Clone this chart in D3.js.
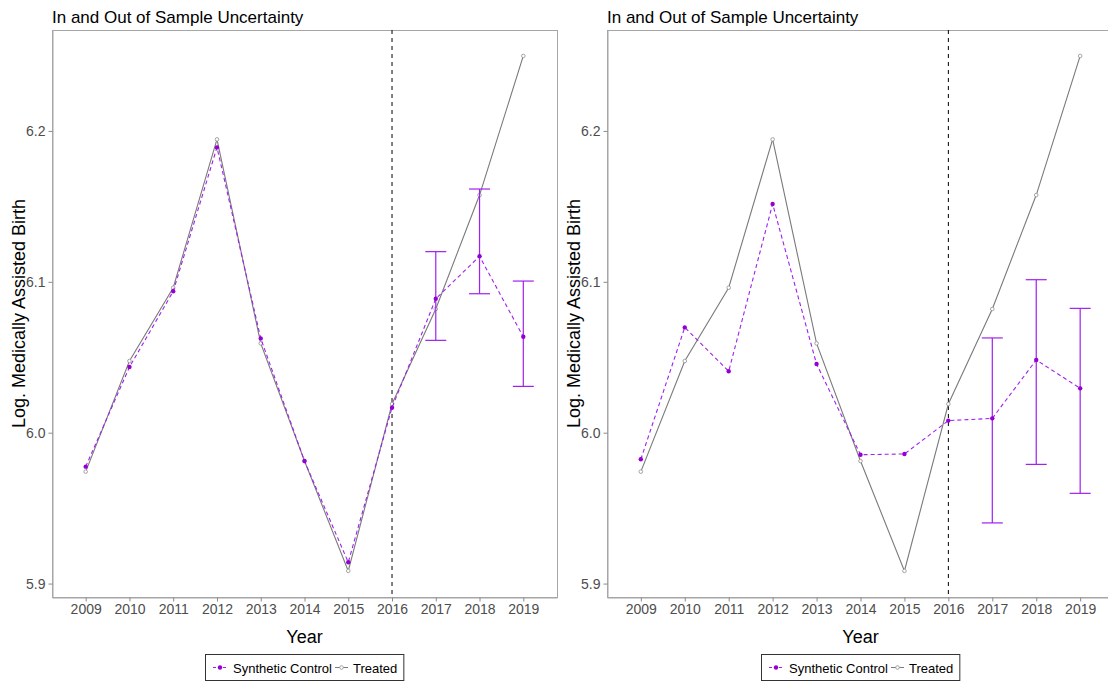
<!DOCTYPE html>
<html>
<head>
<meta charset="utf-8">
<script src="https://cdn.jsdelivr.net/npm/d3@7"></script>
<style>
  html, body { margin: 0; padding: 0; background: #fff; }
  svg { display: block; font-family: "Liberation Sans", Arial, sans-serif; }
</style>
</head>
<body>
<svg id="chart" width="1108" height="684"></svg>
<script>
// Yearly series
const years = [2009, 2010, 2011, 2012, 2013, 2014, 2015, 2016, 2017, 2018, 2019];
const treated = [5.9742, 6.0475, 6.0961, 6.1944, 6.0592, 5.9812, 5.9084, 6.0190, 6.0820, 6.1575, 6.2497];

// In-sample synthetic control and its post-period intervals
const synthIn = [5.9775, 6.0435, 6.0937, 6.1891, 6.0625, 5.9812, 5.9141, 6.0166, 6.0888, 6.1169, 6.0636];
const ciYears = [2017, 2018, 2019];
const inLower = [6.0612, 6.0921, 6.0307];
const inUpper = [6.1200, 6.1615, 6.1005];

// Out-of-sample synthetic control and its post-period intervals
const synthOut = [5.9824, 6.0698, 6.0407, 6.1516, 6.0455, 5.9854, 5.9859, 6.0080, 6.0095, 6.0482, 6.0294];
const outLower = [5.9402, 5.9790, 5.9598];
const outUpper = [6.0628, 6.1014, 6.0824];

const yTicks = [5.9, 6.0, 6.1, 6.2];
const treatmentYear = 2016;
const titleText = "In and Out of Sample Uncertainty";
const xTitle = "Year";
const yTitle = "Log. Medically Assisted Birth";
const legendLabels = ["Synthetic Control", "Treated"];

const purple = "#A020F0";
const grey = "#7a7a7a";

const svg = d3.select("#chart");

const panelTop = 30, panelBottom = 597;
const y = d3.scaleLinear().domain([5.8911, 6.2669]).range([panelBottom, panelTop]);

function drawPanel(left, right, synth, lower, upper) {
  const x = d3.scaleLinear().domain([2008.23, 2019.77]).range([left, right]);
  const g = svg.append("g");

  // panel border
  g.append("rect")
    .attr("x", left + 0.5).attr("y", panelTop + 0.5)
    .attr("width", right - left).attr("height", panelBottom - panelTop)
    .attr("fill", "none").attr("stroke", "#a6a6a6").attr("stroke-width", 1);

  // axes
  const yAxis = d3.axisLeft(y).tickValues(yTicks).tickFormat(d3.format(".1f"))
    .tickSizeInner(4).tickSizeOuter(0).tickPadding(3);
  const ya = g.append("g").attr("transform", `translate(${left + 0.5},0)`).call(yAxis);
  const xAxis = d3.axisBottom(x).tickValues(years).tickFormat(d3.format("d"))
    .tickSizeInner(4).tickSizeOuter(0).tickPadding(3);
  const xa = g.append("g").attr("transform", `translate(0,${panelBottom + 0.5})`).call(xAxis);
  [ya, xa].forEach(a => {
    a.select(".domain").attr("stroke", "#a6a6a6");
    a.selectAll(".tick line").attr("stroke", "#8a8a8a");
    a.selectAll(".tick text").attr("fill", "#4d4d4d").style("font-size", "14px");
  });

  // titles
  g.append("text").attr("x", left).attr("y", 23)
    .style("font-size", "17px").attr("fill", "#000").text(titleText);
  g.append("text").attr("x", (left + right) / 2).attr("y", 643)
    .attr("text-anchor", "middle").style("font-size", "18px").attr("fill", "#000").text(xTitle);
  g.append("text")
    .attr("transform", `translate(${left - 27},${(panelTop + panelBottom) / 2}) rotate(-90)`)
    .attr("text-anchor", "middle").style("font-size", "18px").attr("fill", "#000").text(yTitle);

  // treatment start
  g.append("line")
    .attr("x1", x(treatmentYear)).attr("x2", x(treatmentYear))
    .attr("y1", panelTop).attr("y2", panelBottom)
    .attr("stroke", "#000").attr("stroke-width", 1).attr("stroke-dasharray", "4,4");

  const line = d3.line().x((d, i) => x(years[i])).y(d => y(d));

  // treated series
  g.append("path").datum(treated).attr("d", line)
    .attr("fill", "none").attr("stroke", grey).attr("stroke-width", 1.1);
  g.selectAll(".tp").data(treated).join("circle")
    .attr("cx", (d, i) => x(years[i])).attr("cy", d => y(d)).attr("r", 1.8)
    .attr("fill", "#fff").attr("stroke", "#9a9a9a").attr("stroke-width", 0.9);

  // synthetic control series
  g.append("path").datum(synth).attr("d", line)
    .attr("fill", "none").attr("stroke", purple).attr("stroke-width", 1.1)
    .attr("stroke-dasharray", "4,3");

  // intervals
  const cap = 10.5;
  ciYears.forEach((yr, i) => {
    const cx = x(yr);
    g.append("line").attr("x1", cx).attr("x2", cx).attr("y1", y(lower[i])).attr("y2", y(upper[i]))
      .attr("stroke", purple).attr("stroke-width", 1.2);
    [lower[i], upper[i]].forEach(v => {
      g.append("line").attr("x1", cx - cap).attr("x2", cx + cap).attr("y1", y(v)).attr("y2", y(v))
        .attr("stroke", purple).attr("stroke-width", 1.2);
    });
  });

  g.selectAll(".sp").data(synth).join("circle")
    .attr("cx", (d, i) => x(years[i])).attr("cy", d => y(d)).attr("r", 2.2)
    .attr("fill", "#9400D3");

  // legend: keys and labels laid out from measured text widths
  const lh = 26, ly = 654;
  const my = lh / 2 + 0.5;
  const lg = g.append("g");
  const box = lg.append("rect").attr("y", 0.5).attr("height", lh)
    .attr("fill", "#fff").attr("stroke", "#333").attr("stroke-width", 1);
  let cursor = 8;
  lg.append("line").attr("x1", cursor).attr("x2", cursor + 14).attr("y1", my).attr("y2", my)
    .attr("stroke", purple).attr("stroke-width", 1).attr("stroke-dasharray", "3,2");
  lg.append("circle").attr("cx", cursor + 7).attr("cy", my).attr("r", 2.2).attr("fill", "#9400D3");
  cursor += 20;
  const t0 = lg.append("text").attr("x", cursor).attr("y", my + 5).style("font-size", "13px")
    .attr("fill", "#000").text(legendLabels[0]);
  cursor += t0.node().getComputedTextLength() + 3;
  lg.append("line").attr("x1", cursor).attr("x2", cursor + 13).attr("y1", my).attr("y2", my)
    .attr("stroke", grey).attr("stroke-width", 1);
  lg.append("circle").attr("cx", cursor + 6.5).attr("cy", my).attr("r", 1.8)
    .attr("fill", "#fff").attr("stroke", "#9a9a9a").attr("stroke-width", 0.9);
  cursor += 18;
  const t1 = lg.append("text").attr("x", cursor).attr("y", my + 5).style("font-size", "13px")
    .attr("fill", "#000").text(legendLabels[1]);
  cursor += t1.node().getComputedTextLength() + 6;
  box.attr("x", 0.5).attr("width", cursor);
  lg.attr("transform", `translate(${Math.round((left + right) / 2 - cursor / 2)},${ly})`);
}

drawPanel(52, 557, synthIn, inLower, inUpper);
drawPanel(607, 1114, synthOut, outLower, outUpper);
</script>
</body>
</html>
